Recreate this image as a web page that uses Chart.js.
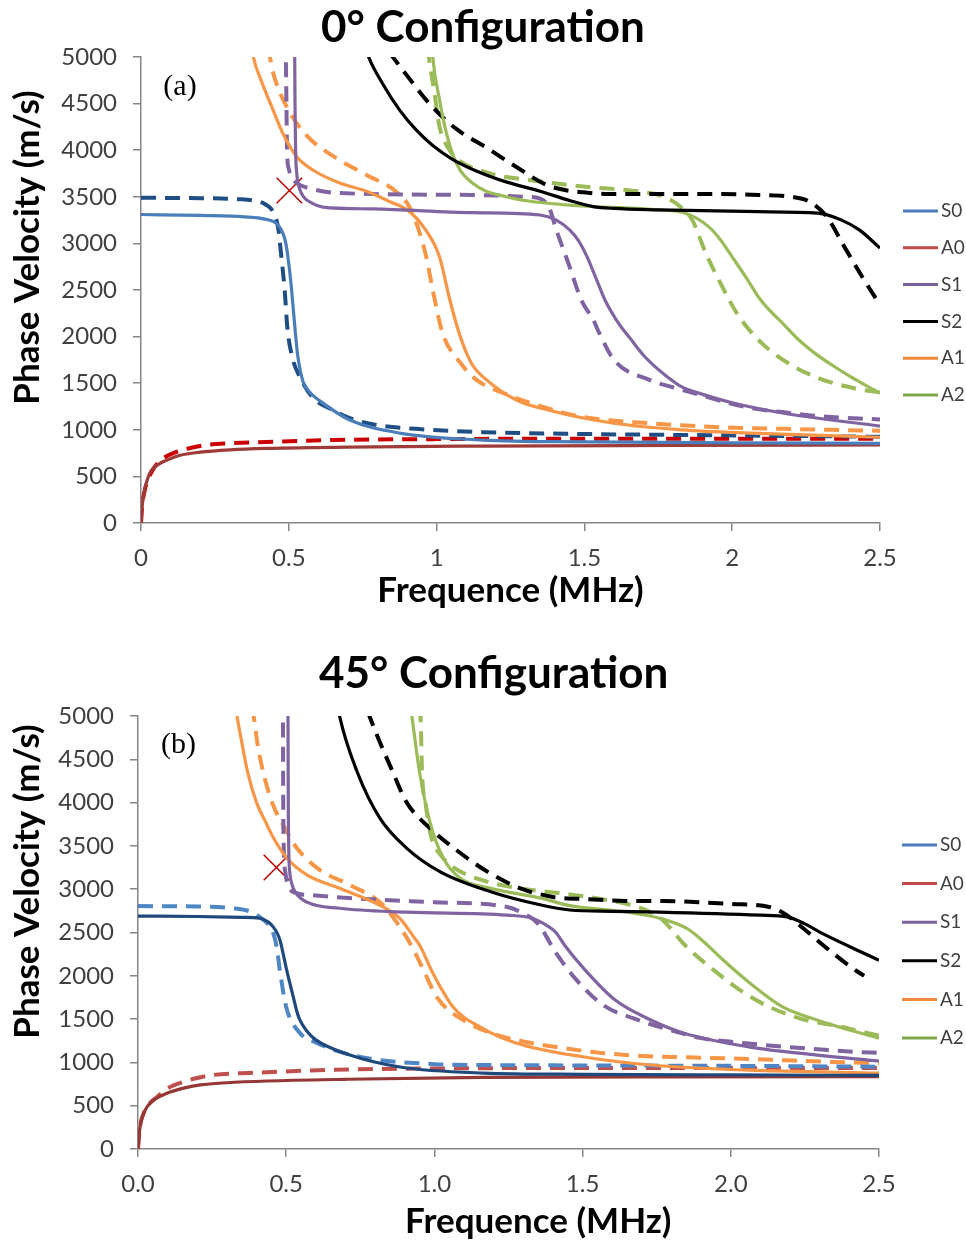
<!DOCTYPE html>
<html>
<head>
<meta charset="utf-8">
<script src="https://cdn.jsdelivr.net/npm/chart.js@4.4.1/dist/chart.umd.min.js"></script>
<style>
  body { margin: 0; background: #fff; overflow: hidden; }
  .wrap { position: absolute; left: 0; width: 966px; }
  #top { top: 0; height: 620px; }
  #bot { top: 620px; height: 623px; }
</style>
</head>
<body>
<div class="wrap" id="top"><canvas id="chartA" width="966" height="620"></canvas></div>
<div class="wrap" id="bot"><canvas id="chartB" width="966" height="623"></canvas></div>
<script>
// mode names (legend order)
const modes = ['S0', 'A0', 'S1', 'S2', 'A1', 'A2'];
const xTicksA = ['0', '0.5', '1', '1.5', '2', '2.5'];
const xTicksB = ['0.0', '0.5', '1.0', '1.5', '2.0', '2.5'];

// ---- (a) 0° configuration, [MHz, m/s] ----
const s0A = [[0,3310],[0.2,3300],[0.35,3285],[0.42,3260],[0.46,3210],[0.48,3110],[0.49,3000],[0.5,2780],[0.508,2550],[0.515,2300],[0.522,2050],[0.53,1800],[0.54,1620],[0.55,1500],[0.575,1390],[0.605,1310],[0.706,1105],[0.875,965],[1.155,890],[1.5,870],[2.0,860],[2.5,855]];
const a0A = [[0,0],[0.003,150],[0.01,320],[0.03,535],[0.06,630],[0.088,675],[0.13,725],[0.2,760],[0.3,785],[0.425,800],[0.7,815],[1.155,825],[1.8,832],[2.5,838]];
const s1A = [[0.518,5200],[0.52,5000],[0.521,4500],[0.523,4000],[0.527,3750],[0.535,3600],[0.55,3500],[0.58,3430],[0.615,3390],[0.785,3370],[1.12,3330],[1.35,3305],[1.405,3250],[1.45,3145],[1.48,3030],[1.51,2850],[1.54,2620],[1.57,2390],[1.61,2170],[1.66,1960],[1.7,1800],[1.74,1675],[1.78,1570],[1.83,1460],[1.9,1380],[2.0,1290],[2.17,1180],[2.5,1040]];
const s2A = [[0.76,5100],[0.77,5000],[0.82,4700],[0.875,4430],[0.93,4220],[0.987,4050],[1.055,3900],[1.155,3750],[1.235,3660],[1.35,3560],[1.45,3460],[1.53,3395],[1.6,3375],[1.75,3360],[2.09,3340],[2.29,3325],[2.37,3250],[2.43,3145],[2.5,2950]];
const a1A = [[0.375,5100],[0.38,5000],[0.41,4720],[0.447,4430],[0.48,4180],[0.527,3930],[0.58,3790],[0.67,3650],[0.763,3560],[0.84,3450],[0.9,3360],[0.955,3180],[1.01,2855],[1.045,2390],[1.08,2000],[1.12,1700],[1.16,1560],[1.27,1320],[1.38,1210],[1.6,1070],[1.83,1000],[2.06,965],[2.5,920]];
const a2A = [[0.985,5100],[0.987,5000],[1.01,4540],[1.033,4185],[1.067,3860],[1.12,3650],[1.235,3500],[1.45,3410],[1.53,3395],[1.75,3360],[1.84,3325],[1.92,3180],[1.96,3040],[2.0,2855],[2.05,2620],[2.09,2420],[2.13,2270],[2.17,2145],[2.22,1980],[2.28,1820],[2.34,1690],[2.4,1570],[2.45,1480],[2.5,1395]];

const s0Adash = [[0,3490],[0.2,3485],[0.33,3475],[0.38,3460],[0.42,3420],[0.45,3320],[0.465,3150],[0.47,3000],[0.486,2500],[0.495,2100],[0.51,1800],[0.537,1570],[0.58,1350],[0.65,1210],[0.706,1125],[0.8,1050],[0.93,1010],[1.155,975],[1.5,955],[2.0,940],[2.5,925]];
const a0Adash = [[0,0],[0.004,180],[0.015,380],[0.04,570],[0.07,680],[0.11,750],[0.16,800],[0.22,837],[0.3,855],[0.425,870],[0.65,890],[1.0,900],[1.5,905],[2.5,905]];
const s1Adash = [[0.488,5200],[0.49,5000],[0.492,4500],[0.494,4000],[0.5,3800],[0.51,3710],[0.53,3640],[0.56,3600],[0.67,3540],[1.12,3520],[1.3,3500],[1.35,3480],[1.38,3390],[1.405,3145],[1.45,2750],[1.49,2390],[1.53,2180],[1.55,2040],[1.6,1750],[1.72,1535],[1.83,1430],[2.06,1235],[2.17,1190],[2.28,1150],[2.5,1110]];
const s2Adash = [[0.84,5050],[0.9,4800],[0.98,4485],[1.07,4220],[1.17,4025],[1.27,3820],[1.37,3630],[1.43,3575],[1.49,3550],[1.58,3530],[1.96,3530],[2.09,3520],[2.2,3500],[2.26,3450],[2.32,3285],[2.38,2960],[2.44,2640],[2.5,2340]];
const a1Adash = [[0.43,5100],[0.436,5000],[0.447,4830],[0.493,4465],[0.56,4160],[0.66,3915],[0.763,3735],[0.865,3550],[0.91,3380],[0.943,3110],[0.965,2855],[0.987,2500],[1.02,2040],[1.08,1720],[1.135,1535],[1.22,1400],[1.36,1245],[1.49,1140],[1.72,1070],[1.94,1030],[2.17,1010],[2.5,990]];
const a2Adash = [[0.97,5100],[0.975,4970],[0.993,4610],[1.01,4250],[1.04,4020],[1.08,3880],[1.15,3780],[1.22,3720],[1.29,3690],[1.4,3645],[1.53,3600],[1.65,3570],[1.77,3500],[1.83,3380],[1.865,3250],[1.91,2900],[1.96,2575],[2.02,2230],[2.1,1930],[2.2,1695],[2.3,1545],[2.42,1440],[2.5,1400]];
const crossA = [[0.502,3568]];

// ---- (b) 45° configuration ----
const s0B = [[0,2690],[0.2,2685],[0.35,2675],[0.41,2665],[0.44,2620],[0.456,2565],[0.47,2490],[0.48,2400],[0.49,2250],[0.5,2090],[0.512,1920],[0.524,1755],[0.535,1600],[0.546,1490],[0.57,1360],[0.6,1260],[0.715,1085],[0.884,947],[1.164,877],[1.5,862],[2.0,855],[2.5,850]];
const a0B = [[0,0],[0.003,130],[0.007,255],[0.015,370],[0.03,485],[0.06,580],[0.098,645],[0.15,700],[0.21,740],[0.3,765],[0.435,785],[0.7,805],[1.164,828],[1.8,833],[2.5,835]];
const s1B = [[0.505,5200],[0.506,5000],[0.507,4000],[0.509,3400],[0.512,3200],[0.52,3050],[0.53,2970],[0.57,2850],[0.68,2780],[0.906,2735],[1.245,2700],[1.33,2665],[1.38,2580],[1.41,2500],[1.44,2350],[1.5,2100],[1.61,1720],[1.73,1490],[1.84,1340],[2.06,1180],[2.29,1085],[2.5,1015]];
const s2B = [[0.675,5100],[0.68,5000],[0.74,4350],[0.816,3820],[0.906,3475],[1.02,3200],[1.19,2970],[1.356,2820],[1.457,2760],[1.6,2745],[1.76,2735],[2.1,2700],[2.19,2680],[2.25,2600],[2.3,2505],[2.44,2275],[2.5,2180]];
const a1B = [[0.33,5100],[0.334,5000],[0.35,4700],[0.37,4350],[0.4,4000],[0.43,3780],[0.456,3600],[0.5,3370],[0.57,3165],[0.68,3010],[0.816,2815],[0.884,2660],[0.93,2450],[0.95,2355],[0.995,2030],[1.063,1640],[1.164,1390],[1.275,1225],[1.5,1065],[1.73,970],[2.06,910],[2.5,877]];
const a2B = [[0.92,5100],[0.924,5000],[0.95,4350],[0.985,3775],[1.03,3360],[1.086,3130],[1.19,3010],[1.356,2900],[1.457,2810],[1.65,2735],[1.76,2665],[1.85,2550],[1.9,2420],[1.975,2180],[2.065,1915],[2.175,1640],[2.29,1490],[2.4,1375],[2.5,1280]];

const s0Bdash = [[0,2805],[0.2,2800],[0.32,2780],[0.38,2740],[0.41,2680],[0.44,2590],[0.456,2495],[0.468,2330],[0.48,2030],[0.5,1640],[0.546,1340],[0.6,1230],[0.66,1145],[0.77,1050],[1.0,980],[1.164,970],[1.5,965],[2.0,960],[2.5,950]];
const a0Bdash = [[0,0],[0.007,260],[0.02,420],[0.04,530],[0.064,600],[0.1,700],[0.14,760],[0.2,820],[0.254,855],[0.39,880],[0.66,915],[1.0,930],[1.5,935],[2.5,935]];
const s1Bdash = [[0.488,5200],[0.489,5000],[0.49,4000],[0.492,3450],[0.497,3200],[0.51,3020],[0.53,2960],[0.59,2930],[0.75,2890],[1.0,2850],[1.245,2795],[1.3,2720],[1.35,2600],[1.41,2265],[1.48,1950],[1.57,1660],[1.67,1510],[1.795,1375],[1.9,1280],[2.04,1225],[2.15,1190],[2.28,1155],[2.42,1120],[2.5,1110]];
const s2Bdash = [[0.775,5050],[0.806,4780],[0.857,4375],[0.906,4005],[0.985,3705],[1.075,3450],[1.18,3200],[1.29,3010],[1.4,2910],[1.52,2885],[1.645,2865],[1.77,2865],[1.89,2850],[2.0,2830],[2.13,2795],[2.18,2720],[2.23,2590],[2.32,2330],[2.42,2065],[2.45,2000]];
const a1Bdash = [[0.385,5100],[0.39,5000],[0.405,4640],[0.43,4250],[0.456,3970],[0.5,3680],[0.536,3475],[0.614,3220],[0.715,3050],[0.827,2815],[0.895,2505],[0.93,2300],[0.96,2090],[1.01,1745],[1.11,1465],[1.2,1330],[1.31,1235],[1.435,1165],[1.56,1110],[1.7,1075],[1.84,1060],[2.06,1040],[2.34,1005],[2.5,990]];
const a2Bdash = [[0.952,5100],[0.955,4800],[0.958,4375],[0.97,3995],[0.99,3590],[1.02,3400],[1.063,3255],[1.18,3085],[1.29,3010],[1.42,2955],[1.54,2900],[1.66,2820],[1.72,2750],[1.77,2645],[1.845,2355],[1.95,2045],[2.04,1815],[2.13,1640],[2.24,1500],[2.375,1410],[2.46,1340],[2.5,1310]];
const crossB = [[0.467,3250]];

const legendColors = ['#4a7ebb', '#be4b48', '#7d60a0', '#000000', '#f08a3c', '#7ea845'];

const toXY = arr => arr.map(p => ({x: p[0], y: p[1]}));
const nb = n => '\u00a0'.repeat(n); // shifts a centred title off-centre

// writes "(a)" / "(b)" inside the plot
const panelLabel = {
  id: 'panelLabel',
  afterDraw(chart, args, opts) {
    const {ctx, scales: {x, y}} = chart;
    ctx.save();
    ctx.font = '30px "Liberation Serif"';
    ctx.fillStyle = '#000';
    ctx.textAlign = 'center';
    ctx.textBaseline = 'middle';
    ctx.fillText(opts.text, x.getPixelForValue(opts.x), y.getPixelForValue(opts.y));
    ctx.restore();
  }
};

// Excel-style legend to the right of the plot (solid series only)
const sideLegend = {
  id: 'sideLegend',
  afterDraw(chart, args, opts) {
    const {ctx, chartArea} = chart;
    ctx.save();
    ctx.font = '19px Lato';
    ctx.textBaseline = 'middle';
    ctx.fillStyle = '#404040';
    modes.forEach((m, i) => {
      const y = chartArea.top + opts.first + i * opts.step;
      const x0 = chartArea.right + opts.gap;
      ctx.strokeStyle = legendColors[i];
      ctx.lineWidth = 3;
      ctx.beginPath();
      ctx.moveTo(x0, y);
      ctx.lineTo(x0 + 35, y);
      ctx.stroke();
      ctx.fillText(m, x0 + 38, y);
    });
    ctx.restore();
  }
};

function makeChart(id, p) {
  const solid = p.solid.map((d, i) => ({
    label: modes[i],
    data: toXY(d),
    borderColor: p.solidColors[i],
    backgroundColor: p.solidColors[i],
    borderWidth: 3.2,
    pointRadius: 0,
    cubicInterpolationMode: 'monotone',
    fill: false
  }));
  const dashed = p.dashed.map((d, i) => ({
    label: modes[i] + ' dashed',
    data: toXY(d),
    borderColor: p.dashColors[i],
    backgroundColor: p.dashColors[i],
    borderWidth: 4,
    borderDash: [15, 9],
    pointRadius: 0,
    cubicInterpolationMode: 'monotone',
    fill: false
  }));
  const cross = {
    label: 'x',
    data: toXY(p.cross),
    showLine: false,
    pointStyle: 'crossRot',
    pointRadius: 18,
    borderColor: '#c00000',
    borderWidth: 1.5
  };

  const axisGrey = '#868686';
  const tickFont = {family: 'Lato', size: 24};
  const titleFont = {family: 'Lato', size: 35, weight: 'bold'};

  return new Chart(document.getElementById(id), {
    type: 'line',
    data: {datasets: [...solid, ...dashed, cross]},
    plugins: [panelLabel, sideLegend],
    options: {
      responsive: false,
      animation: false,
      layout: {padding: {top: p.padTop, left: 0, right: 0, bottom: 0}},
      plugins: {
        tooltip: {enabled: false},
        legend: {display: false},
        title: {
          display: true,
          text: p.title,
          color: '#000',
          font: {family: 'Lato', size: 44, weight: 'bold'},
          padding: {top: 0, bottom: p.titlePad}
        },
        panelLabel: {text: p.panel, x: p.panelAt[0], y: p.panelAt[1]},
        sideLegend: {first: p.legendFirst, step: p.legendStep, gap: 23}
      },
      scales: {
        x: {
          type: 'linear',
          min: 0,
          max: 2.5,
          afterFit: s => { s.height = p.xHeight; },
          ticks: {stepSize: 0.5, callback: (v, i) => p.xTicks[i], font: tickFont, color: '#404040', padding: 13, maxRotation: 0},
          grid: {drawOnChartArea: false, drawTicks: true, tickLength: 8, color: axisGrey, lineWidth: 1.5},
          border: {color: axisGrey, width: 1.5},
          title: {display: true, text: p.xTitle, color: '#000', font: titleFont, padding: {top: 0, bottom: p.xTitlePad}}
        },
        y: {
          min: 0,
          max: 5000,
          afterFit: s => { s.width = p.yWidth; },
          ticks: {stepSize: 500, callback: v => String(v), font: tickFont, color: '#404040', padding: 16},
          grid: {drawOnChartArea: false, drawTicks: true, tickLength: 8, color: axisGrey, lineWidth: 1.5},
          border: {color: axisGrey, width: 1.5},
          title: {display: true, text: p.yTitle, color: '#000', font: titleFont, padding: {top: 7, bottom: 0}}
        },
        // empty right-hand axis: keeps room for the legend
        side: {
          position: 'right',
          min: 0,
          max: 1,
          afterFit: s => { s.width = p.legendWidth; },
          ticks: {display: false},
          grid: {display: false},
          border: {display: false}
        }
      }
    }
  });
}

makeChart('chartA', {
  title: '0° Configuration',
  xTitle: 'Frequence (MHz)',
  yTitle: nb(10) + 'Phase Velocity (m/s)',
  xTicks: xTicksA,
  solid: [s0A, a0A, s1A, s2A, a1A, a2A],
  dashed: [s0Adash, a0Adash, s1Adash, s2Adash, a1Adash, a2Adash],
  cross: crossA,
  solidColors: ['#4a7ebb', '#9e3b38', '#8064a2', '#000000', '#f79646', '#9bbb59'],
  dashColors: ['#1f4e85', '#cc0000', '#8064a2', '#000000', '#f79646', '#9bbb59'],
  panel: '(a)', panelAt: [0.132, 4673],
  padTop: 1.6, titlePad: 2.6, xHeight: 97, xTitlePad: 8, yWidth: 141,
  legendWidth: 86, legendFirst: 154, legendStep: 36.8
});

makeChart('chartB', {
  title: nb(2) + '45° Configuration',
  xTitle: nb(7) + 'Frequence (MHz)',
  yTitle: nb(12) + 'Phase Velocity (m/s)',
  xTicks: xTicksB,
  solid: [s0B, a0B, s1B, s2B, a1B, a2B],
  dashed: [s0Bdash, a0Bdash, s1Bdash, s2Bdash, a1Bdash, a2Bdash],
  cross: crossB,
  solidColors: ['#1f497d', '#953735', '#8064a2', '#000000', '#f79646', '#9bbb59'],
  dashColors: ['#4f86c6', '#c0504d', '#8064a2', '#000000', '#f79646', '#9bbb59'],
  panel: '(b)', panelAt: [0.137, 4665],
  padTop: 27.6, titlePad: 15.6, xHeight: 94, xTitlePad: 0, yWidth: 138,
  legendWidth: 87, legendFirst: 129, legendStep: 38.6
});
</script>
</body>
</html>
